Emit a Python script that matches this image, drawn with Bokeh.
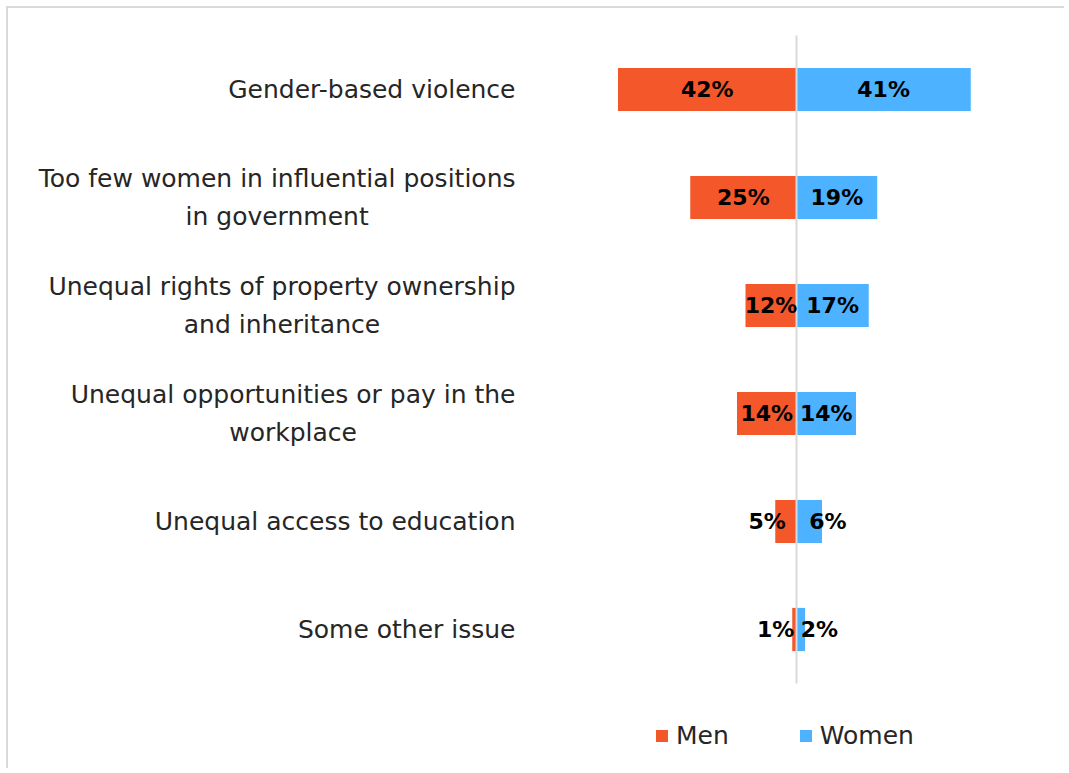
from bokeh.plotting import figure
from bokeh.models import ColumnDataSource, Range1d, Legend, LegendItem
from bokeh.core.properties import value
from bokeh.embed import file_html
from bokeh.resources import INLINE

# ---- data ----
categories = [
    "Gender-based violence",
    "Too few women in influential positions\nin government",
    "Unequal rights of property ownership\nand inheritance",
    "Unequal opportunities or pay in the\nworkplace",
    "Unequal access to education",
    "Some other issue",
]
men = [42, 25, 12, 14, 5, 1]
women = [41, 19, 17, 14, 6, 2]
series_names = ["Men", "Women"]

MEN_COLOR = "#F4572A"
WOMEN_COLOR = "#4DB2FF"
FONT = "DejaVu Sans"

W, H = 1058, 762
PX_PER_PCT = 4.25      # horizontal scale
ZERO_PX = 788          # zero line inside the figure
ROW_PX = 108           # row pitch
FIRST_ROW_PX = 81      # centre of the first row inside the figure
LABEL_RIGHT_PX = 507   # right edge of category labels inside the figure

n = len(categories)
rows = list(range(n))

src = ColumnDataSource(dict(
    row=rows,
    cat=categories,
    men_left=[-v for v in men],
    zero=[0] * n,
    women=women,
    men_lx=[-v / 2 for v in men],
    women_lx=[v / 2 for v in women],
    men_align=["center" if v >= 10 else "right" for v in men],
    women_align=["center" if v >= 10 else "left" for v in women],
    men_txt=[f"{v}%" for v in men],
    women_txt=[f"{v}%" for v in women],
))

p = figure(
    width=W, height=H,
    x_range=Range1d(-ZERO_PX / PX_PER_PCT, (W - ZERO_PX) / PX_PER_PCT),
    y_range=Range1d((H - FIRST_ROW_PX) / ROW_PX, -FIRST_ROW_PX / ROW_PX),
    x_axis_type=None, y_axis_type=None,
    toolbar_location=None, output_backend="svg",
    min_border_left=0, min_border_right=0, min_border_top=0, min_border_bottom=0,
)
p.outline_line_color = None
p.grid.visible = False
p.background_fill_color = "white"
p.border_fill_color = "white"
p.styles = {"border-left": "2px solid #d9d9d9", "border-top": "2px solid #d9d9d9",
            "margin-left": "6px", "margin-top": "6px"}

r_men = p.hbar(y="row", left="men_left", right="zero", height=0.4, source=src,
               fill_color=MEN_COLOR, line_color=None)
r_women = p.hbar(y="row", left="zero", right="women", height=0.4, source=src,
                 fill_color=WOMEN_COLOR, line_color=None)

# zero line spanning the category band
p.segment(x0=[0], y0=[-0.5], x1=[0], y1=[n - 0.5], line_color="#d9d9d9", line_width=2)

# value labels
for xcol, acol, tcol in (("men_lx", "men_align", "men_txt"),
                         ("women_lx", "women_align", "women_txt")):
    p.text(x=xcol, y="row", text=tcol, source=src, text_align=acol,
           text_baseline="middle", text_font=value(FONT), text_font_style="bold",
           text_font_size="22px", text_color="black")

# category labels (block right-anchored, lines centered)
p.text(x=(LABEL_RIGHT_PX - ZERO_PX) / PX_PER_PCT, y="row", text="cat", source=src,
       anchor="center_right", text_align="center", text_baseline="middle",
       text_font=value(FONT), text_font_size="25px", text_color="#262626",
       text_line_height=1.3)

legend = Legend(
    items=[LegendItem(label=series_names[0], renderers=[r_men]),
           LegendItem(label=series_names[1], renderers=[r_women])],
    orientation="horizontal", location=(646, 20), padding=0, margin=0,
    spacing=69, glyph_width=15, glyph_height=15, label_standoff=7,
    label_text_font=FONT, label_text_font_size="25px", label_text_color="#262626",
    border_line_alpha=0, background_fill_alpha=0,
)
p.add_layout(legend)

open("out.html", "w").write(file_html(p, INLINE))
